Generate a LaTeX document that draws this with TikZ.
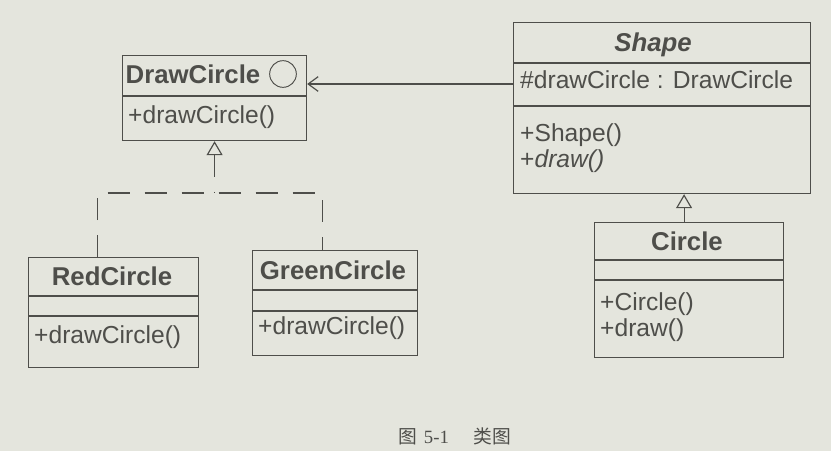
\documentclass[tikz,border=0pt]{standalone}
\usepackage{fontspec}
\setmainfont{Liberation Sans}
\newfontfamily\cjk{Noto Sans CJK SC}
\newfontfamily\capfont{Liberation Serif}
\usetikzlibrary{arrows.meta}
\definecolor{paper}{RGB}{228,229,221}
\definecolor{ink}{RGB}{78,78,74}
\begin{document}
\begin{tikzpicture}[
        umlbox/.style={rectangle, draw=ink, line width=1pt, anchor=north west, inner sep=0pt},
        title/.style={font=\fontsize{22}{26}\selectfont\bfseries, text=ink, inner sep=0pt},
        member/.style={font=\fontsize{21}{25}\selectfont, text=ink, inner sep=0pt, anchor=west},
        divider/.style={draw=ink, line width=1pt},
        assoc/.style={draw=ink, line width=1pt, -{Straight Barb[length=3mm,width=4.4mm]}},
        inherit/.style={draw=ink, line width=1pt, -{Triangle[open,length=4.2mm,width=4.8mm]}},
        realize/.style={draw=ink, line width=1pt, dash pattern=on 6.6mm off 4.5mm}
    ]
        % 背景
        \fill[paper] (0,0) rectangle (24.93,-13.53);
        \useasboundingbox (0,0) rectangle (24.93,-13.53);

        % DrawCircle
        \node[umlbox, minimum width=5.52cm, minimum height=2.55cm] at (3.66,-1.65) (drawc) {};
        \draw[divider] ([yshift=-1.23cm]drawc.north west) -- ([yshift=-1.23cm]drawc.north east);
        \node[title] at (5.79,-2.22) (drawctitle) {DrawCircle};
        \node[circle, draw=ink, line width=0.8pt, minimum size=0.8cm, inner sep=0pt] at (8.49,-2.22) (drawcicon) {};
        \node[member] at (3.84,-3.51) (drawcop) {+drawCircle()};

        % Shape
        \node[umlbox, minimum width=8.91cm, minimum height=5.13cm] at (15.39,-0.66) (shape) {};
        \draw[divider] ([yshift=-1.23cm]shape.north west) -- ([yshift=-1.23cm]shape.north east);
        \draw[divider] ([yshift=-2.52cm]shape.north west) -- ([yshift=-2.52cm]shape.north east);
        \node[title] at (19.59,-1.35) (shapetitle) {\itshape Shape};
        \node[member] at (15.6,-2.4) (shapeattr) {\#drawCircle : DrawCircle};
        \node[member] at (15.6,-4.05) (shapeop1) {+Shape()};
        \node[member] at (15.6,-4.83) (shapeop2) {+\textit{draw()}};

        % Circle
        \node[umlbox, minimum width=5.67cm, minimum height=4.05cm] at (17.82,-6.66) (circ) {};
        \draw[divider] ([yshift=-1.14cm]circ.north west) -- ([yshift=-1.14cm]circ.north east);
        \draw[divider] ([yshift=-1.74cm]circ.north west) -- ([yshift=-1.74cm]circ.north east);
        \node[title] at (20.61,-7.23) (circtitle) {Circle};
        \node[member] at (18.0,-9.12) (circop1) {+Circle()};
        \node[member] at (18.0,-9.9) (circop2) {+draw()};

        % RedCircle
        \node[umlbox, minimum width=5.1cm, minimum height=3.3cm] at (0.84,-7.71) (red) {};
        \draw[divider] ([yshift=-1.17cm]red.north west) -- ([yshift=-1.17cm]red.north east);
        \draw[divider] ([yshift=-1.77cm]red.north west) -- ([yshift=-1.77cm]red.north east);
        \node[title] at (3.36,-8.28) (redtitle) {RedCircle};
        \node[member] at (1.02,-10.11) (redop) {+drawCircle()};

        % GreenCircle
        \node[umlbox, minimum width=4.95cm, minimum height=3.15cm] at (7.56,-7.5) (green) {};
        \draw[divider] ([yshift=-1.2cm]green.north west) -- ([yshift=-1.2cm]green.north east);
        \draw[divider] ([yshift=-1.83cm]green.north west) -- ([yshift=-1.83cm]green.north east);
        \node[title] at (9.99,-8.1) (greentitle) {GreenCircle};
        \node[member] at (7.74,-9.84) (greenop) {+drawCircle()};

        % 关联
        \coordinate (assocy) at (0,-2.52);
        \draw[assoc] (shape.west |- assocy) -- (drawc.east |- assocy);

        % 继承
        \coordinate (circin) at ([xshift=-0.15cm]circ.north);
        \draw[inherit] (circin) -- (circin |- shape.south);

        % 实现
        \coordinate (fork) at (0,-5.79);
        \coordinate (redin) at ([xshift=-0.48cm]red.north);
        \coordinate (greenin) at ([xshift=-0.375cm]green.north);
        \draw[realize] (redin) |- (greenin |- fork) -- (greenin);
        \draw[realize, {Triangle[open,length=4.2mm,width=4.8mm]}-] (drawc.south) -- (drawc.south |- fork);

        % 图题
        \node[font=\fontsize{16}{18}\selectfont, text=ink] at (13.65,-13.08) (caption)
            {{\cjk 图}\hspace{0.2cm}{\capfont 5-1}\hspace{0.75cm}{\cjk 类图}};
    \end{tikzpicture}
\end{document}
